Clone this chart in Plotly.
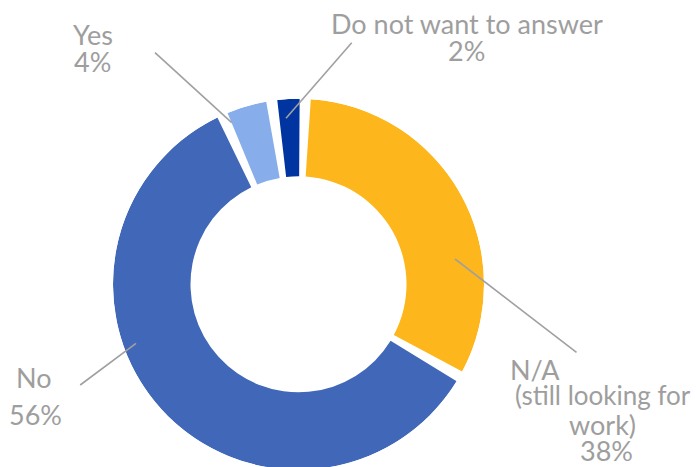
import plotly.graph_objects as go

# ---- data ----
categories = ["N/A (still looking for work)", "No", "Yes", "Do not want to answer"]
shares = [33.0, 61.4, 3.6, 2.0]          # visible angular share of each ring segment
pct_labels = ["38%", "56%", "4%", "2%"]  # printed data labels
colors = ["#FDB71C", "#4168B8", "#87AEEA", "#0034A0"]

# ---- layout constants (pixels, measured in the target picture) ----
W, H = 699, 467
OFF = 8          # page body margin: figure is drawn 8px right/down in the window
CX, CY = 298.5, 284.3
R_OUT, R_IN = 185.5, 108.0
GAP = 3.45      # angular gap between segments, degrees
START = 3.8     # where the first segment starts, degrees clockwise from 12 o'clock

FONT = "Lato"
FSIZE = 27
TXT = "#9e9e9e"
LINE = "#a0a0a0"

def px(x):
    return (x - OFF) / W

def py(y):
    return 1 - (y - OFF) / H

total = sum(shares)
avail = 360 - GAP * len(shares)
widths = [s / total * avail for s in shares]
thetas = []
a = START
for w in widths:
    thetas.append(a + w / 2)
    a += w + GAP

hole = R_IN / R_OUT
fig = go.Figure(go.Barpolar(
    theta=thetas,
    width=widths,
    base=[hole] * len(shares),
    r=[1 - hole] * len(shares),
    marker=dict(color=colors, line=dict(width=0)),
    text=[f"{c}: {p}" for c, p in zip(categories, pct_labels)],
    hoverinfo="text",
    showlegend=False,
))

# label lines (text split for wrapping) and their positions: (x, y, anchor, size)
label_wraps = [
    ["N/A", "(still looking for", "work)", pct_labels[0]],
    ["No", pct_labels[1]],
    ["Yes", pct_labels[2]],
    ["Do not want to answer", pct_labels[3]],
]
label_pos = [
    [(510, 369, "left", FSIZE), (602.5, 395, "center", 26),
     (602.5, 424, "center", FSIZE), (606.5, 450, "center", FSIZE)],
    [(33.5, 377.5, "center", FSIZE), (8.5, 414.5, "left", FSIZE)],
    [(93, 35, "center", FSIZE), (92.3, 61.7, "center", FSIZE)],
    [(466.7, 23.9, "center", FSIZE), (466.5, 50.5, "center", FSIZE)],
]
leaders = [
    ((455, 259), (576.5, 352.3)),
    ((136, 343.3), (80.2, 385)),
    ((231.7, 122.7), (155, 52.7)),
    ((286, 118.3), (351.7, 42.7)),
]

annotations = []
for lines, poss in zip(label_wraps, label_pos):
    for t, (x, y, anc, fs) in zip(lines, poss):
        annotations.append(dict(
            text=t, x=px(x), y=py(y), xref="paper", yref="paper",
            xanchor=anc, yanchor="middle", showarrow=False,
            borderpad=0, borderwidth=0,
            font=dict(family=FONT, size=fs, color=TXT),
        ))

shapes = []
for (x0, y0), (x1, y1) in leaders:
    shapes.append(dict(
        type="line", xref="paper", yref="paper",
        x0=px(x0), y0=py(y0), x1=px(x1), y1=py(y1),
        line=dict(color=LINE, width=1.6),
    ))

fig.update_layout(
    width=W, height=H,
    margin=dict(l=0, r=0, t=0, b=0),
    paper_bgcolor="white",
    plot_bgcolor="white",
    polar=dict(
        domain=dict(x=[px(CX - R_OUT), px(CX + R_OUT)],
                    y=[max(0, py(CY + R_OUT)), py(CY - R_OUT)]),
        bgcolor="rgba(0,0,0,0)",
        radialaxis=dict(visible=False, range=[0, 1]),
        angularaxis=dict(visible=False, rotation=90, direction="clockwise"),
    ),
    annotations=annotations,
    shapes=shapes,
)

fig.write_html("out.html")
